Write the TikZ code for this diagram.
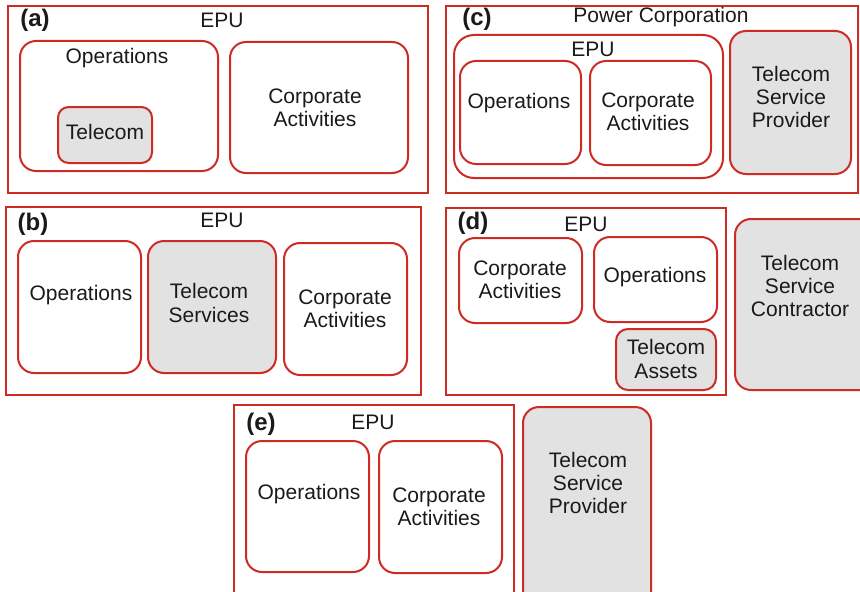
\documentclass[tikz,border=0pt]{standalone}
\usepackage{fontspec}
\setmainfont{Liberation Sans}
\usetikzlibrary{positioning}
\definecolor{epuRed}{HTML}{CD2B23}
\definecolor{svcGrey}{HTML}{E2E2E2}
\definecolor{txtDark}{HTML}{1A1A1A}
\tikzset{
  panel/.style={draw=epuRed, line width=1.9pt, inner sep=0pt},
  unit/.style={draw=epuRed, line width=1.5pt, rounded corners=12pt, inner sep=0pt},
  svc/.style={unit, fill=svcGrey},
  txt/.style={font=\fontsize{15.75}{17.5}\selectfont, text=txtDark, align=center, inner sep=0pt},
  tag/.style={font=\fontsize{18}{20}\selectfont\bfseries, text=txtDark, inner sep=0pt},
}
% box from (x1,y1) to (x2,y2) in px, text placed at its own point
\newcommand{\ubox}[8]{%
  \node[#6, minimum width={(#4-#2)*0.75pt}, minimum height={(#5-#3)*0.75pt}] (#1) at ({(#2+#4)/2},{(#3+#5)/2}) {};%
  \node[txt] (#1-t) at (#8) {#7};}

\begin{document}
\begin{tikzpicture}[x=0.75pt, y=-0.75pt]
\useasboundingbox (0,0) rectangle (860,592);

% (a) telecom inside operations
\ubox{pa}{8}{6}{428}{193}{panel}{EPU}{222,20}
\node[tag] (a-tag) at (35,20) {(a)};
\ubox{a-ops}{20}{41}{218}{171}{unit}{Operations}{117,58}
\ubox{a-tel}{58}{107}{152}{163}{svc, rounded corners=8pt}{Telecom}{105,132}
\ubox{a-corp}{230}{42}{408}{173}{unit}{Corporate\\Activities}{315,108}

% (c) separate provider in the corporation
\ubox{pc}{446}{6}{858}{193}{panel}{Power Corporation}{661,17}
\node[tag] (c-tag) at (477,19) {(c)};
\ubox{c-epu}{454}{35}{723}{178}{unit, rounded corners=15pt}{EPU}{593,49}
\ubox{c-ops}{460}{61}{581}{164}{unit}{Operations}{519,103}
\ubox{c-corp}{590}{61}{711}{165}{unit}{Corporate\\Activities}{648,112}
\ubox{c-tsp}{730}{31}{851}{174}{svc}{Telecom\\Service\\Provider}{791,97}

% (b) telecom as its own unit
\ubox{pb}{6}{207}{421}{395}{panel}{EPU}{222,220}
\node[tag] (b-tag) at (33,224) {(b)};
\ubox{b-ops}{18}{241}{141}{373}{unit}{Operations}{81,295}
\ubox{b-tel}{148}{241}{276}{373}{svc}{Telecom\\Services}{209,303}
\ubox{b-corp}{284}{243}{407}{375}{unit}{Corporate\\Activities}{345,309}

% (d) assets kept, service contracted out
\ubox{pd}{446}{208}{726}{395}{panel}{EPU}{586,224}
\node[tag] (d-tag) at (473,223) {(d)};
\ubox{d-corp}{459}{238}{582}{323}{unit}{Corporate\\Activities}{520,280}
\ubox{d-ops}{594}{237}{717}{322}{unit}{Operations}{655,277}
\ubox{d-ast}{616}{329}{716}{390}{svc, rounded corners=9pt}{Telecom\\Assets}{666,359}
\ubox{d-tsc}{735}{219}{880}{390}{svc}{Telecom\\Service\\Contractor}{800,286}

% (e) external provider
\ubox{pe}{234}{405}{514}{612}{panel}{EPU}{373,422}
\node[tag] (e-tag) at (261,424) {(e)};
\ubox{e-ops}{246}{441}{369}{572}{unit}{Operations}{309,494}
\ubox{e-corp}{379}{441}{502}{573}{unit}{Corporate\\Activities}{439,507}
\ubox{e-tsp}{523}{407}{651}{615}{svc}{Telecom\\Service\\Provider}{588,483}
\end{tikzpicture}
\end{document}
